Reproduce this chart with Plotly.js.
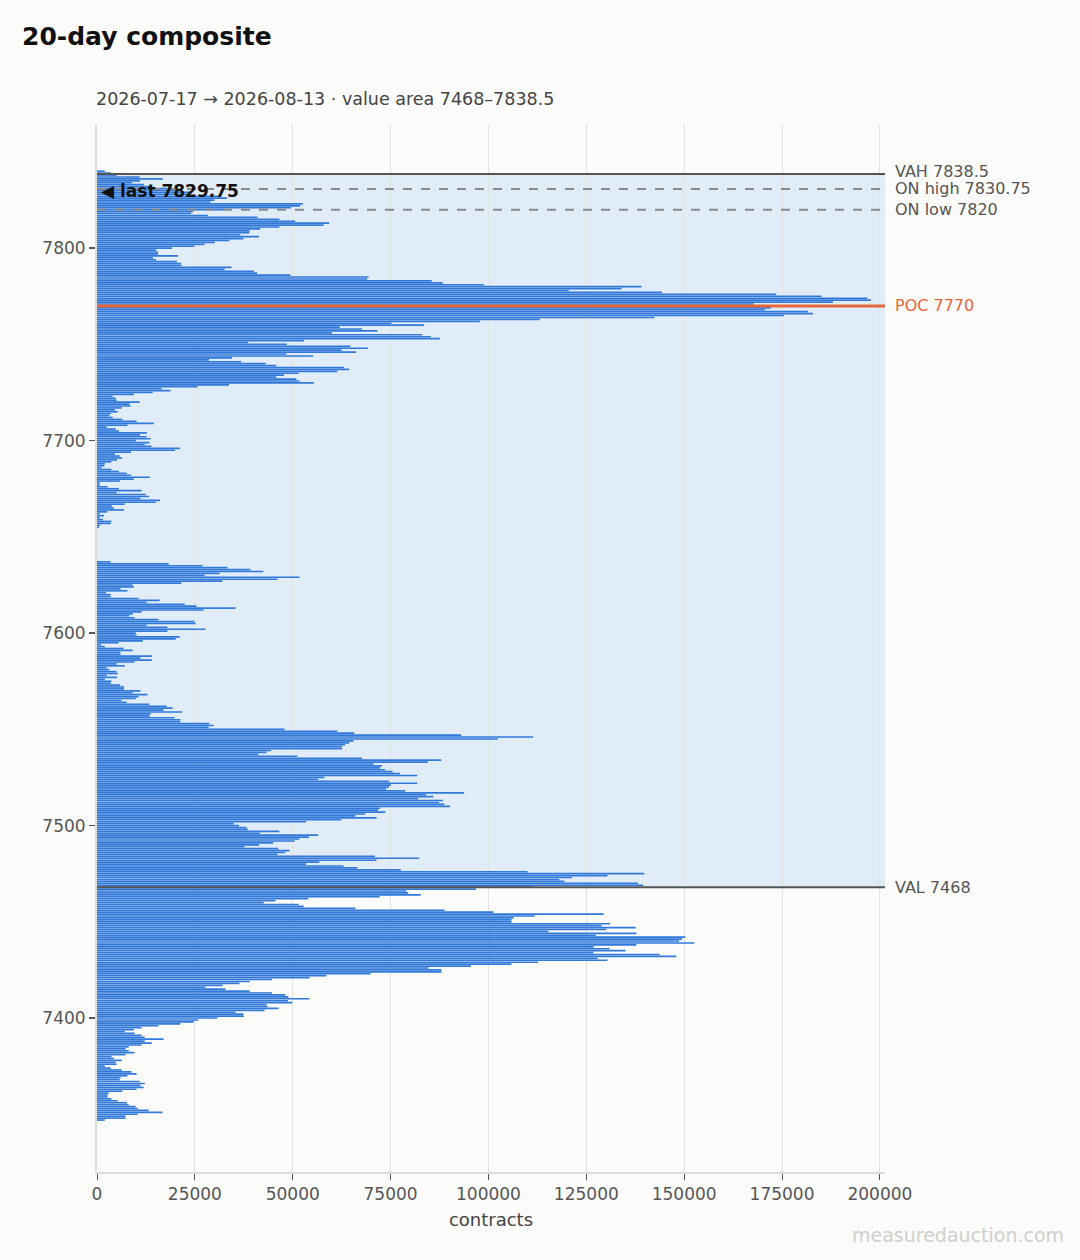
<!DOCTYPE html>
<html>
<head>
<meta charset="utf-8">
<script src="https://cdn.plot.ly/plotly-3.0.1.min.js"></script>
<style>
  html, body { margin: 0; padding: 0; background: #fbfbf9; }
  #chart { width: 1080px; height: 1260px; }
</style>
</head>
<body>
<div id="chart"></div>
<script>
// Volume per 1-point price level, listed from the highest price downward.
// Each segment starts at the price given in segStarts.
const segStarts = [7840, 7791, 7739, 7637, 7570, 7505, 7444, 7401];

const volA = [2000,3500,5000,10900,16800,11000,9000,12000,14000,18000,
  21000,24000,23000,31300,33200,30000,29000,52600,51900,49600,
  32600,24500,24000,28300,41000,46600,50600,59300,57900,46600,
  41700,39000,38900,36600,41400,37400,33800,30100,27500,24900,
  19200,15100,15600,15600,20700,14300,15100,20400,21500];

const volB = [21600,34400,32600,40100,40900,49400,69400,69000,85500,88300,
  98800,139100,134000,120500,144300,173500,185100,196800,197700,188000,
  167800,175000,172200,170600,181600,182900,175500,142400,113100,97800,
  75200,83500,62000,67700,71600,60000,83100,85300,87600,52900,
  38600,48500,64700,69200,62500,66200,48400,55200,34500,28600,
  36800,43100];

const volC = [45800,63100,64400,61400,51500,47800,45800,50900,51700,55400,
  33700,25700,16500,18800,14200,9400,4000,4800,5000,10900,
  8300,8600,6300,4600,5300,3500,3100,4000,6500,10100,
  14500,7800,2500,4800,5600,12700,11000,12700,13700,9900,
  13400,12200,13900,21200,19900,8700,4600,5800,6400,5100,
  3700,2000,1900,1200,3700,5600,7600,8700,13500,9400,
  5900,700,700,2700,5600,11400,5000,12500,13300,11100,
  16100,15000,7100,3800,4300,6900,2600,700,1800,700,
  1500,3700,3500,800,500];

const volD = [3500,18300,27000,33300,39200,42500,31300,27500,51700,46100,
  32000,21500,9100,9400,6000,7800,2300,3500,3500,10600,
  16000,12700,22400,25400,35400,27200,11400,9100,8200,9600,
  15700,24900,25200,12700,18000,27700,18000,9900,10100,21100,
  20100,11700,5500,1000,2000,6800,9100,6000,6000,14000,
  11100,14000,9600,5000,7100,2500,3100,5000,5300,2500,
  5100,2000,3700,3500,5900,6900,6900];

const volE = [11100,9100,12900,10600,9900,6300,7600,13400,17800,19300,
  17000,21800,13700,13400,19800,21300,21300,28700,29800,28500,
  47900,61400,65700,93000,111400,102400,65500,64400,63400,62600,
  62600,44500,43300,41200,51200,67700,87900,84500,70600,72800,
  72300,73600,75500,77400,81800,58100,56500,74600,81800,75100,
  74600,73900,78700,93800,84100,85900,82000,88400,87400,88700,
  90200,72300,71800,73600,68500];

const volF = [66000,71400,62400,53400,34900,36300,38200,38500,46600,41600,
  56500,54100,51700,50500,45000,41400,37700,46300,49200,48000,
  46100,71000,82300,71400,56800,53400,63000,66500,77600,110000,
  139800,130400,121300,118100,119400,138200,139500,111300,96800,79000,
  79500,82700,72200,54000,45600,42600,51500,52800,66000,88800,
  101300,129400,111800,106400,105900,105900,131100,128900,137600,130100,
  115300];

const volG = [137800,127400,150300,149500,148700,152600,137800,126900,130900,135000,
  126800,143700,148000,127900,130400,112700,105900,95500,84700,88000,
  88000,69900,58600,54300,44700,39000,36400,32100,27700,32800,
  39000,44700,48100,48900,54300,48800,49900,43300,43600,46400,
  42800,35400,37400];

const volH = [37500,30800,25900,24700,21300,15700,11400,9400,7100,9600,
  11400,12200,17000,12200,14000,11400,8100,7300,8100,9600,
  7300,3700,4300,6300,4800,5000,2000,3500,6300,8800,
  10100,7800,6000,5800,10900,12200,11100,11900,10100,6500,
  3000,2700,2700,3700,5300,7600,8100,9900,10400,13200,
  16700,10400,7300,7300,2000];

const segValues = [volA, volB, volC, volD, volE, volF, volG, volH];

// Reference levels
const vahLevel = 7838.5;
const valLevel = 7468;
const pocLevel = 7770;
const onHigh = 7830.75;
const onLow = 7820;
const lastPrice = 7829.75;

const xTicks = [0, 25000, 50000, 75000, 100000, 125000, 150000, 175000, 200000];
const yTicks = [7400, 7500, 7600, 7700, 7800];

const titleText = '20-day composite';
const subtitleText = '2026-07-17 \u2192 2026-08-13 \u00b7 value area 7468\u20137838.5';

// Build price / volume series from segments
const prices = [];
const volumes = [];
segValues.forEach((vals, i) => {
  vals.forEach((v, k) => {
    prices.push(segStarts[i] - k);
    volumes.push(v);
  });
});

const FONT = 'DejaVu Sans, Verdana, sans-serif';

const trace = {
  type: 'bar',
  orientation: 'h',
  x: volumes,
  y: prices,
  width: 0.86,
  marker: { color: '#3179d9', line: { width: 0 } },
  hoverinfo: 'skip'
};

function hline(y, color, width, dash) {
  return { type: 'line', xref: 'paper', x0: 0, x1: 1, yref: 'y', y0: y, y1: y,
           line: { color: color, width: width, dash: dash || 'solid' }, layer: 'above' };
}
function rightLabel(y, text, color, yshift) {
  return { xref: 'paper', x: 1, xanchor: 'left', xshift: 8, yref: 'y', y: y,
           yanchor: 'middle', yshift: yshift || 0, text: text, showarrow: false,
           font: { family: FONT, size: 16, color: color } };
}

const layout = {
  width: 1080,
  height: 1260,
  paper_bgcolor: '#fbfbf9',
  plot_bgcolor: '#fbfbf9',
  margin: { l: 97, r: 195, t: 125, b: 88 },
  showlegend: false,
  bargap: 0.1,
  font: { family: FONT, color: '#555' },
  title: {
    text: '<b>' + titleText + '</b>',
    x: 22 / 1080, xanchor: 'left', xref: 'container',
    y: 1 - 36 / 1260, yanchor: 'middle', yref: 'container',
    font: { family: FONT, size: 25, color: '#111' }
  },
  xaxis: {
    range: [0, 201300],
    tickvals: xTicks,
    tickformat: 'd',
    ticks: 'outside', ticklen: 6, tickcolor: '#555', tickwidth: 1,
    showgrid: true, gridcolor: '#e3e3e0', gridwidth: 1,
    showline: true, linecolor: '#dcdcd8', linewidth: 2,
    zeroline: false,
    tickfont: { family: FONT, size: 17, color: '#555' },
    title: { text: 'contracts', standoff: 10, font: { family: FONT, size: 18, color: '#444' } }
  },
  yaxis: {
    range: [7320, 7864],
    tickvals: yTicks,
    ticks: 'outside', ticklen: 6, tickcolor: '#555', tickwidth: 1.5,
    showgrid: false,
    showline: true, linecolor: '#dcdcd8', linewidth: 2,
    zeroline: false,
    tickfont: { family: FONT, size: 17, color: '#555' }
  },
  shapes: [
    { type: 'rect', xref: 'paper', x0: 0, x1: 1, yref: 'y', y0: valLevel, y1: vahLevel,
      fillcolor: '#e1ecf9', line: { width: 0 }, layer: 'below' },
    hline(vahLevel, '#555555', 2),
    hline(onHigh, '#8a8a8a', 2, 'dash'),
    hline(onLow, '#8a8a8a', 2, 'dash'),
    hline(pocLevel, '#e8663a', 3),
    hline(valLevel, '#555555', 2)
  ],
  annotations: [
    { xref: 'paper', x: 0, xanchor: 'left', xshift: -3, yref: 'paper', y: (1172 - 99) / 1047, yanchor: 'middle',
      text: subtitleText, showarrow: false, font: { family: FONT, size: 17.5, color: '#444' } },
    rightLabel(vahLevel, 'VAH 7838.5', '#555', 3),
    rightLabel(onHigh, 'ON high 7830.75', '#555', 0),
    rightLabel(onLow, 'ON low 7820', '#555', 0),
    rightLabel(pocLevel, 'POC 7770', '#e8663a', 0),
    rightLabel(valLevel, 'VAL 7468', '#555', 0),
    { xref: 'paper', x: 0, xanchor: 'left', xshift: 2, yref: 'y', y: lastPrice, yanchor: 'middle',
      text: '<b>\u25c0 last 7829.75</b>', showarrow: false,
      font: { family: FONT, size: 17, color: '#111' } },
    { xref: 'paper', x: (1066 - 97) / 788, xanchor: 'right', yref: 'paper', y: (1172 - 1235) / 1047,
      yanchor: 'middle', text: 'measuredauction.com', showarrow: false,
      font: { family: FONT, size: 19, color: '#cfcfcc' } }
  ]
};

Plotly.newPlot('chart', [trace], layout, { staticPlot: true, displayModeBar: false });
</script>
</body>
</html>
